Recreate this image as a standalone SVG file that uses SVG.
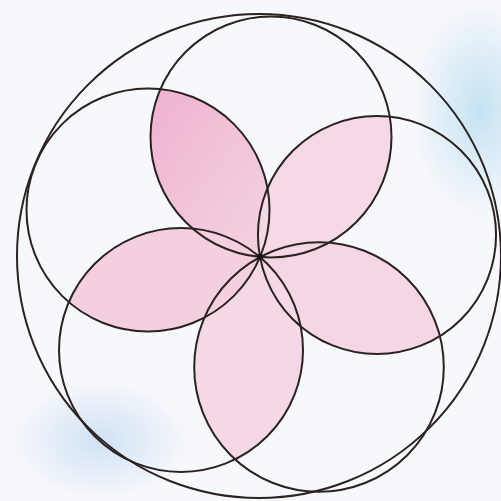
<svg xmlns="http://www.w3.org/2000/svg" width="501" height="501" viewBox="0 0 501 501">
  <defs>
    <style>
      .ring { fill: none; stroke: #2b2222; stroke-width: 2; }
      .petal { stroke: none; }
    </style>
    <radialGradient id="blueTR" cx="0.5" cy="0.5" r="0.5">
      <stop offset="0" stop-color="#bfe0f2" stop-opacity="0.9"/>
      <stop offset="1" stop-color="#bfe0f2" stop-opacity="0"/>
    </radialGradient>
    <radialGradient id="blueBL" cx="0.5" cy="0.5" r="0.5">
      <stop offset="0" stop-color="#c6dcf2" stop-opacity="0.8"/>
      <stop offset="1" stop-color="#c6dcf2" stop-opacity="0"/>
    </radialGradient>
    <linearGradient id="pinkTop" x1="0" y1="0" x2="1" y2="1">
      <stop offset="0" stop-color="#eeb3cf"/>
      <stop offset="1" stop-color="#f4d3e2"/>
    </linearGradient>
  </defs>
  <rect width="501" height="501" fill="#f7f8fb"/>
  <ellipse cx="480" cy="110" rx="70" ry="110" fill="url(#blueTR)"/>
  <ellipse cx="100" cy="440" rx="90" ry="60" fill="url(#blueBL)"/>

  <g id="petals">
    <path id="petal-top" class="petal" fill="url(#pinkTop)" d="M260,257 A120.5,120.5 0 0 1 160.4,89.2 A121.5,121.5 0 0 1 260,257Z"/>
    <path id="petal-right" class="petal" fill="#f5d9e6" d="M260,257 A119.05,119.05 0 0 1 389.8,116.6 A120.5,120.5 0 0 1 260,257Z"/>
    <path id="petal-lowright" class="petal" fill="#f4d6e4" d="M260,257 A124.8,124.8 0 0 1 440,336 A119.05,119.05 0 0 1 260,257Z"/>
    <path id="petal-low" class="petal" fill="#f5d8e5" d="M260,257 A122,122 0 0 1 235,459.4 A124.8,124.8 0 0 1 260,257Z"/>
    <path id="petal-left" class="petal" fill="#f3cfdf" d="M260,257 A121.5,121.5 0 0 1 68.8,302 A122,122 0 0 1 260,257Z"/>
  </g>

  <g id="outer-circle">
    <circle class="ring" cx="259" cy="256" r="242"/>
  </g>
  <g id="circle-top"><circle class="ring" cx="271" cy="137" r="120.5"/></g>
  <g id="circle-right"><circle class="ring" cx="377" cy="235" r="119.05"/></g>
  <g id="circle-lowright"><circle class="ring" cx="319" cy="367" r="124.8"/></g>
  <g id="circle-lowleft"><circle class="ring" cx="181" cy="350" r="122"/></g>
  <g id="circle-upleft"><circle class="ring" cx="148" cy="210" r="121.5"/></g>
  <g id="center"><circle cx="260" cy="257" r="3" fill="#1a1212"/></g>
</svg>
